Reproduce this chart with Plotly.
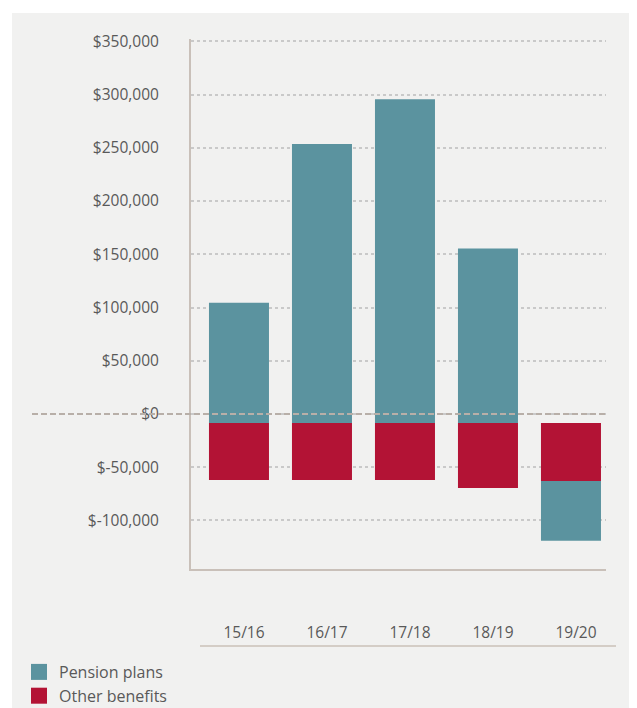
import plotly.graph_objects as go

# ---- data ----
categories = ["15/16", "16/17", "17/18", "18/19", "19/20"]
pension_plans = [113000, 262000, 304000, 164000, -56000]
other_benefits = [-53500, -53500, -53500, -61000, -54500]
y_tick_values = [-100000, -50000, 0, 50000, 100000, 150000, 200000, 250000, 300000, 350000]
y_tick_labels = [f"${v:,}" for v in y_tick_values]

# ---- style ----
TEAL = "#5b939f"
RED = "#b31335"
BG = "#f1f1f0"
TEXT = "#595959"
AXIS = "#c9c0b9"
GRID = "#c9c9c9"
BAR_BASE = -8500  # visual gap between zero line and bars
FONT = "Open Sans"

OFF = 8  # page body margin
W, H = 637 - OFF, 708 - OFF
L, R, T, B = 191 - OFF, 31, 39 - OFF, 139
pw, ph = W - L - R, H - T - B

def px_x(p):
    return (p - OFF - L) / pw

def px_y(p):
    return (H - B - (p - OFF)) / ph

pension_base = [BAR_BASE if p >= 0 else BAR_BASE + o for p, o in zip(pension_plans, other_benefits)]

fig = go.Figure()
fig.add_trace(go.Bar(x=categories, y=other_benefits, base=[BAR_BASE] * len(categories),
                     marker=dict(color=RED, line=dict(width=0)), width=0.723,
                     name="Other benefits", showlegend=False))
fig.add_trace(go.Bar(x=categories, y=pension_plans, base=pension_base,
                     marker=dict(color=TEAL, line=dict(width=0)), width=0.723,
                     name="Pension plans", showlegend=False))
# legend entries
fig.add_trace(go.Scatter(x=[None], y=[None], mode="markers", name="Pension plans",
                         legendgroup="a",
                         marker=dict(symbol="square", size=17, color=TEAL)))
fig.add_trace(go.Scatter(x=[None], y=[None], mode="markers", name="Other benefits",
                         legendgroup="b",
                         marker=dict(symbol="square", size=17, color=RED)))

shapes = [
    dict(type="rect", xref="paper", yref="paper", x0=px_x(12), x1=px_x(W + 20),
         y0=px_y(H + 30), y1=px_y(13), fillcolor=BG, line=dict(width=0), layer="below"),
    dict(type="line", xref="paper", yref="y", x0=px_x(32), x1=1, y0=0, y1=0,
         line=dict(color="#b8afa8", width=2, dash="6px,3px"), layer="above"),
    dict(type="line", xref="paper", yref="paper", x0=px_x(200), x1=px_x(616),
         y0=px_y(646), y1=px_y(646), line=dict(color="#d4cdc6", width=2)),
]

fig.update_layout(
    width=W, height=H,
    margin=dict(l=L, r=R, t=T, b=B, autoexpand=False),
    paper_bgcolor="white",
    plot_bgcolor="rgba(0,0,0,0)",
    barmode="overlay",
    font=dict(family=FONT, size=15.5, color=TEXT),
    shapes=shapes,
    showlegend=True,
    legend=dict(x=px_x(19), y=px_y(655), xanchor="left", yanchor="top",
                bgcolor="rgba(0,0,0,0)", font=dict(size=16, color=TEXT),
                traceorder="grouped", tracegroupgap=0, itemwidth=30),
    xaxis=dict(type="category", range=[-0.578, 4.422], showgrid=False,
               showline=True, linecolor=AXIS, linewidth=2, ticks="",
               tickfont=dict(size=15.5, color=TEXT), ticklabelstandoff=48,
               ticklabelshift=5, fixedrange=True),
    yaxis=dict(range=[-145600, 352180], tickvals=y_tick_values, ticktext=y_tick_labels,
               showgrid=True, gridcolor=GRID, griddash="dot", gridwidth=1.5,
               zeroline=False, showline=True, linecolor=AXIS, linewidth=2,
               ticks="", tickfont=dict(size=15.5, color=TEXT), ticklabelstandoff=27,
               fixedrange=True),
)

fig.write_html("out.html")
